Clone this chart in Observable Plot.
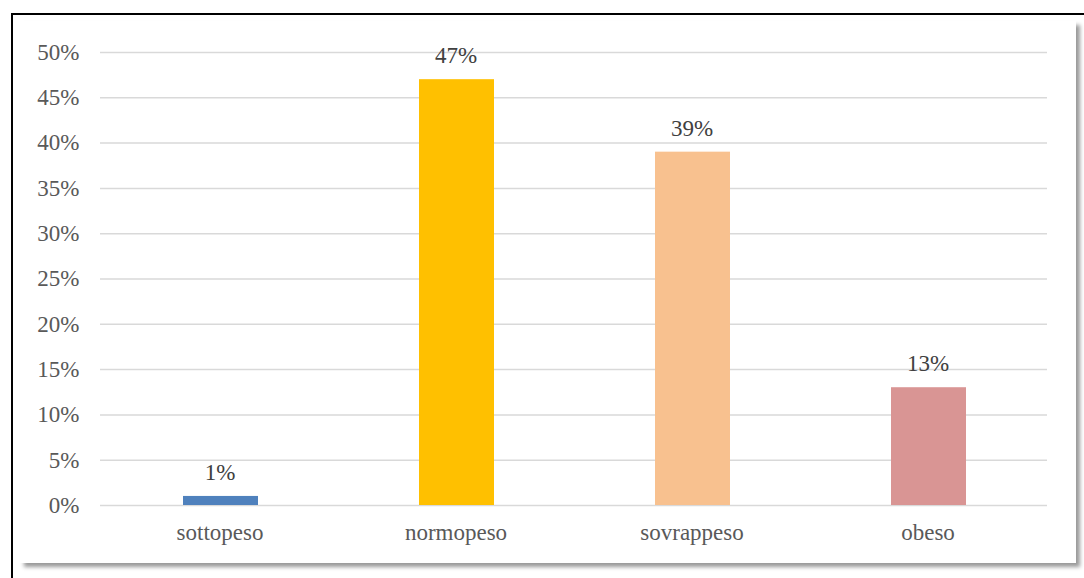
<!DOCTYPE html>
<html>
<head>
<meta charset="utf-8">
<script src="https://cdn.jsdelivr.net/npm/d3@7"></script>
<script src="https://cdn.jsdelivr.net/npm/@observablehq/plot@0.6"></script>
<style>
  html, body { margin: 0; padding: 0; background: white; width: 1084px; height: 578px; overflow: hidden; }
  #frame { position: absolute; left: 11px; top: 13px; width: 1200px; height: 700px; border: 2px solid black; box-sizing: border-box; }
  #card { position: absolute; left: 20px; top: 21px; width: 1056px; height: 542px; background: white; box-shadow: 4px 4px 4px rgba(0,0,0,0.4); }
  #chart { position: absolute; left: 0; top: 0; }
  #chart svg, #chart svg text { font-family: "Liberation Serif", "Times New Roman", serif !important; }
</style>
</head>
<body>
<div id="frame"></div>
<div id="card"></div>
<div id="chart"></div>
<script>
const categories = ["sottopeso", "normopeso", "sovrappeso", "obeso"];
const values = [0.01, 0.47, 0.39, 0.13];
const colors = ["#4F81BD", "#FFC000", "#F8C18F", "#D99594"];
const yTicks = [0, 0.05, 0.10, 0.15, 0.20, 0.25, 0.30, 0.35, 0.40, 0.45, 0.50];

const data = categories.map((c, i) => ({category: c, value: values[i], color: colors[i]}));
const fmt = d3.format(".0%");
const FONT = "'Liberation Serif', 'Times New Roman', serif";

const plot = Plot.plot({
  width: 1084,
  height: 578,
  marginLeft: 100,
  marginRight: 37,
  marginTop: 52,
  marginBottom: 73,
  style: {background: "transparent", fontFamily: FONT, fontSize: "23px", color: "#595959"},
  x: {domain: categories, paddingInner: 0.683, paddingOuter: 0.3415, label: null},
  y: {domain: [0, 0.5], label: null},
  marks: [
    Plot.gridY(yTicks, {stroke: "#D9D9D9", strokeOpacity: 1, strokeWidth: 1.5}),
    Plot.axisY(yTicks, {tickSize: 0, tickPadding: 21, tickFormat: fmt, fill: "#595959", fontSize: 23, fontFamily: FONT, label: null}),
    Plot.axisX({tickSize: 0, tickPadding: 18, fill: "#595959", fontSize: 23, fontFamily: FONT, label: null}),
    Plot.barY(data, {x: "category", y: "value", fill: "color", dx: 1}),
    Plot.text(data, {x: "category", y: "value", text: d => fmt(d.value), lineAnchor: "middle", dy: -24, fill: "#404040", fontSize: 23, fontFamily: FONT})
  ]
});
document.getElementById("chart").appendChild(plot);
</script>
</body>
</html>
